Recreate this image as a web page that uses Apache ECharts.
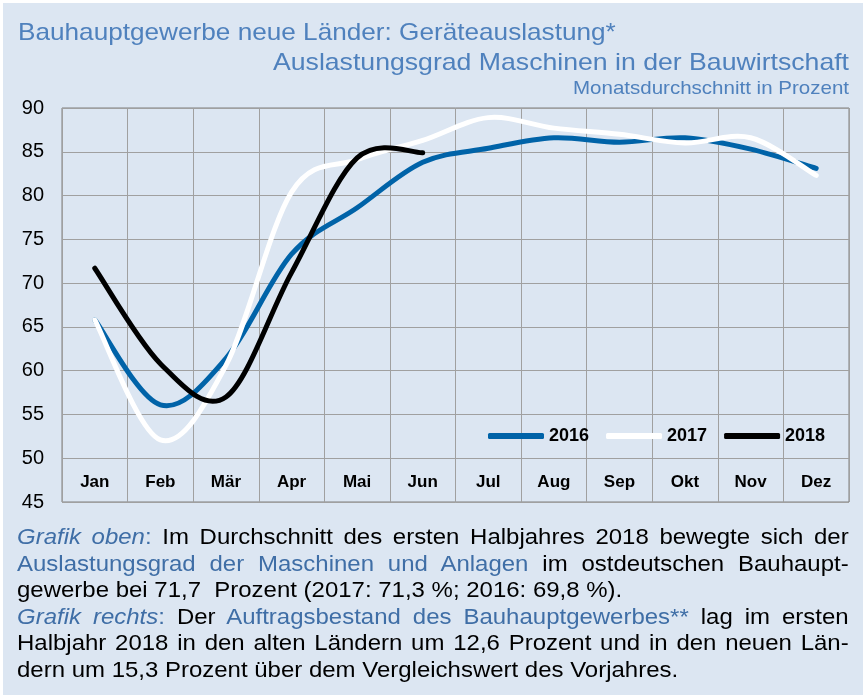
<!DOCTYPE html>
<html>
<head>
<meta charset="utf-8">
<script src="https://cdn.jsdelivr.net/npm/echarts@6/dist/echarts.min.js"></script>
<style>
  html, body { margin: 0; padding: 0; background: #ffffff; }
  #wrap { position: absolute; left: 3px; top: 3px; width: 860px; height: 692px; background: #dce6f2; }
  #chart { position: absolute; left: -3px; top: -3px; width: 863px; height: 695px; }
  #note {
    position: absolute; left: 14px; top: 521px; width: 763px;
    transform: scaleX(1.09); transform-origin: 0 0;
    font-family: 'Liberation Sans', Arial, sans-serif; font-size: 22px; line-height: 26.6px; color: #000;
  }
  #note .j { text-align: justify; text-align-last: justify; white-space: nowrap; }
  #note .b, #note i { color: #3f6ea6; }
</style>
</head>
<body>
<div id="wrap">
  <div id="chart"></div>
  <div id="note">
    <div class="j"><i>Grafik oben</i><span class="b">:</span> Im Durchschnitt des ersten Halbjahres 2018 bewegte sich der</div>
    <div class="j"><span class="b">Auslastungsgrad der Maschinen und Anlagen</span> im ostdeutschen Bauhaupt-</div>
    <div>gewerbe bei 71,7&nbsp; Prozent (2017: 71,3 %; 2016: 69,8 %).</div>
    <div class="j"><i>Grafik rechts</i><span class="b">:</span> Der <span class="b">Auftragsbestand des Bauhauptgewerbes**</span> lag im ersten</div>
    <div class="j">Halbjahr 2018 in den alten Ländern um 12,6 Prozent und in den neuen Län-</div>
    <div>dern um 15,3 Prozent über dem Vergleichswert des Vorjahres.</div>
  </div>
</div>
<script>
// Monatsdurchschnitt in Prozent
const months = ['Jan', 'Feb', 'Mär', 'Apr', 'Mai', 'Jun', 'Jul', 'Aug', 'Sep', 'Okt', 'Nov', 'Dez']
const data2016 = [65.8, 56.1, 61.4, 73.3, 78.6, 83.8, 85.4, 86.6, 86.1, 86.6, 85.3, 83.1]
const data2017 = [65.8, 52.1, 60.6, 80.4, 84.1, 86.3, 88.9, 87.7, 87.0, 86.0, 86.6, 82.3]
const data2018 = [71.7, 60.8, 57.0, 71.2, 84.3, 84.9]

const font = "'Liberation Sans', Arial, sans-serif"
const titleBlue = '#4f81bd'

const chart = echarts.init(document.getElementById('chart'), null, { renderer: 'canvas' })

// smooth curve like the spreadsheet original (catmull-rom through the points)
function curveSeries(name, values, color) {
  return {
    name: name,
    type: 'custom',
    coordinateSystem: 'cartesian2d',
    data: values.map((v, i) => [i, v]),
    encode: { x: 0, y: 1 },
    itemStyle: { color: color },
    animation: false,
    silent: true,
    renderItem: function (params, api) {
      if (params.dataIndex !== 0) {
        return null
      }
      const pts = values.map((v, i) => api.coord([i, v]))
      let d = 'M' + pts[0][0] + ' ' + pts[0][1]
      for (let i = 0; i < pts.length - 1; i++) {
        const p0 = pts[i - 1] || pts[i]
        const p1 = pts[i]
        const p2 = pts[i + 1]
        const p3 = pts[i + 2] || pts[i + 1]
        const c1x = p1[0] + (p2[0] - p0[0]) / 6
        const c1y = p1[1] + (p2[1] - p0[1]) / 6
        const c2x = p2[0] - (p3[0] - p1[0]) / 6
        const c2y = p2[1] - (p3[1] - p1[1]) / 6
        d += ' C' + c1x + ' ' + c1y + ' ' + c2x + ' ' + c2y + ' ' + p2[0] + ' ' + p2[1]
      }
      return {
        type: 'path',
        shape: { pathData: d },
        style: { fill: 'none', stroke: color, lineWidth: 5, lineCap: 'round', lineJoin: 'round' }
      }
    }
  }
}

function titleText(text, x, y, size, align, sx) {
  return {
    type: 'text',
    x: x,
    y: y,
    scaleX: sx,
    silent: true,
    style: {
      text: text,
      fill: titleBlue,
      font: 'normal ' + size + 'px ' + font,
      align: align,
      verticalAlign: 'middle'
    }
  }
}

chart.setOption({
  backgroundColor: 'transparent',
  graphic: {
    elements: [
      titleText('Bauhauptgewerbe neue Länder: Geräteauslastung*', 18, 33, 24, 'left', 1.09),
      titleText('Auslastungsgrad Maschinen in der Bauwirtschaft', 849, 63, 24, 'right', 1.11),
      titleText('Monatsdurchschnitt in Prozent', 849, 89, 19, 'right', 1.08)
    ]
  },
  grid: {
    left: 62,
    right: 14,
    top: 108,
    bottom: 193,
    show: true,
    borderColor: '#7f7f7f',
    borderWidth: 1
  },
  legend: {
    left: 488,
    top: 427,
    padding: 0,
    icon: 'roundRect',
    itemWidth: 56,
    itemHeight: 6,
    itemGap: 17,
    textStyle: { fontFamily: font, fontSize: 18, fontWeight: 'bold', color: '#000' },
    data: ['2016', '2017', '2018']
  },
  xAxis: {
    type: 'category',
    data: months,
    boundaryGap: true,
    axisLine: { show: false },
    axisTick: { show: false },
    splitLine: { show: true, interval: 0, lineStyle: { color: '#a0a0a0', width: 1 } },
    axisLabel: {
      inside: true,
      margin: 11,
      interval: 0,
      fontFamily: font,
      fontSize: 17,
      fontWeight: 'bold',
      color: '#000'
    }
  },
  yAxis: {
    type: 'value',
    min: 45,
    max: 90,
    interval: 5,
    axisLine: { show: false },
    axisTick: { show: false },
    splitLine: { lineStyle: { color: '#a0a0a0', width: 1 } },
    axisLabel: { margin: 18, fontFamily: font, fontSize: 20, color: '#000' }
  },
  series: [
    curveSeries('2016', data2016, '#0063a8'),
    curveSeries('2017', data2017, '#ffffff'),
    curveSeries('2018', data2018, '#000000')
  ]
})
</script>
</body>
</html>
